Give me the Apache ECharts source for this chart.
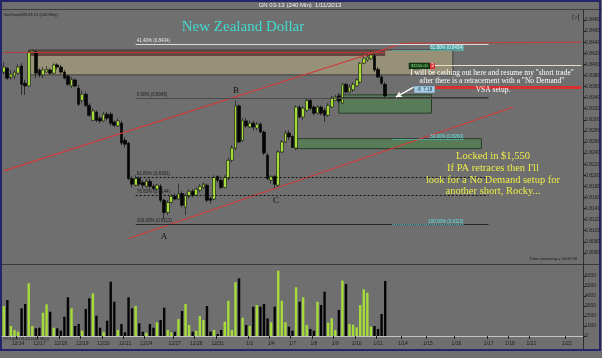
<!DOCTYPE html>
<html>
<head>
<meta charset="utf-8">
<script src="https://cdn.jsdelivr.net/npm/echarts@6/dist/echarts.min.js"></script>
<style>
  html, body, #main { width: 100%; height: 100%; margin: 0; }
  body { background: #6f6f6f; }
</style>
</head>
<body>
<div id="main"></div>
<script>
// 240 min bars, 6N 03-13
var slotCount = 163;   // bars that fit on the time axis (108 drawn, rest is empty space)
var dayLabels = ['12/14','12/17','12/18','12/19','12/20','12/21','12/24','12/27','12/28','12/31',
                 '1/2','1/4','1/7','1/8','1/9','1/10','1/11','1/14','1/15','1/16','1/17','1/18','1/21','1/22'];
var dayStartBar = [4,10,16,22,28,34,40,48,54,60,69,75,81,87,93,99,105,112,119,127,136,142,148,158];

var opens = [.8386,.8393,.8377,.8379,.8384,.8397,.8366,.8361,.8420,.8422,
 .8390,.8381,.8386,.8390,.8384,.8399,.8395,.8386,.8379,.8361,
 .8372,.8357,.8335,.8346,.8326,.8299,.8314,.8303,.8298,.8310,
 .8310,.8296,.8289,.8294,.8263,.8258,.8194,.8182,.8194,.8187,
 .8180,.8189,.8180,.8175,.8180,.8155,.8133,.8151,.8162,.8157,
 .8167,.8142,.8162,.8171,.8164,.8173,.8178,.8182,.8158,.8157,
 .8198,.8191,.8178,.8194,.8227,.8249,.8325,.8263,.8298,.8287,
 .8294,.8285,.8292,.8278,.8236,.8191,.8198,.8182,.8242,.8260,
 .8276,.8270,.8249,.8323,.8305,.8317,.8335,.8323,.8312,.8323,
 .8317,.8308,.8323,.8335,.8343,.8330,.8364,.8350,.8354,.8361,
 .8368,.8402,.8408,.8410,.8415,.8391,.8377,.8364];
var closes = [.8395,.8375,.8382,.8386,.8395,.8364,.8361,.8422,.8424,.8384,
 .8381,.8390,.8391,.8384,.8399,.8395,.8386,.8375,.8364,.8373,
 .8361,.8328,.8346,.8326,.8308,.8316,.8299,.8298,.8310,.8303,
 .8294,.8290,.8298,.8258,.8256,.8194,.8184,.8194,.8184,.8182,
 .8189,.8180,.8176,.8182,.8155,.8133,.8151,.8162,.8157,.8167,
 .8146,.8164,.8171,.8164,.8175,.8180,.8184,.8155,.8155,.8196,
 .8191,.8178,.8196,.8227,.8249,.8325,.8260,.8299,.8289,.8294,
 .8287,.8292,.8278,.8240,.8194,.8198,.8184,.8242,.8260,.8276,
 .8269,.8250,.8323,.8305,.8321,.8335,.8321,.8312,.8323,.8312,
 .8308,.8326,.8339,.8341,.8334,.8364,.8350,.8359,.8364,.8372,
 .8402,.8411,.8413,.8417,.8390,.8377,.8366,.8343];
var highs = [.8404,.8395,.8390,.8390,.8400,.8402,.8372,.8424,.8426,.8426,
 .8393,.8395,.8397,.8393,.8402,.8402,.8399,.8390,.8381,.8377,
 .8375,.8363,.8354,.8350,.8330,.8321,.8317,.8307,.8314,.8314,
 .8314,.8299,.8303,.8298,.8269,.8260,.8198,.8200,.8198,.8191,
 .8194,.8194,.8184,.8185,.8184,.8158,.8155,.8166,.8167,.8185,
 .8171,.8167,.8175,.8175,.8178,.8184,.8187,.8185,.8162,.8200,
 .8200,.8194,.8200,.8232,.8254,.8335,.8328,.8303,.8303,.8299,
 .8298,.8296,.8296,.8281,.8240,.8200,.8200,.8245,.8263,.8281,
 .8281,.8272,.8326,.8326,.8325,.8339,.8339,.8326,.8326,.8326,
 .8321,.8330,.8343,.8345,.8348,.8366,.8366,.8363,.8368,.8375,
 .8404,.8417,.8419,.8424,.8419,.8395,.8381,.8368];
var lows = [.8382,.8372,.8372,.8373,.8381,.8345,.8345,.8359,.8419,.8375,
 .8377,.8375,.8384,.8381,.8382,.8391,.8382,.8373,.8361,.8357,
 .8359,.8325,.8330,.8323,.8305,.8298,.8296,.8294,.8296,.8299,
 .8289,.8287,.8287,.8254,.8250,.8191,.8178,.8180,.8180,.8176,
 .8178,.8176,.8173,.8173,.8151,.8122,.8128,.8149,.8155,.8155,
 .8142,.8128,.8158,.8160,.8162,.8169,.8175,.8151,.8149,.8155,
 .8187,.8175,.8176,.8191,.8223,.8245,.8258,.8260,.8285,.8285,
 .8281,.8281,.8276,.8236,.8191,.8185,.8176,.8178,.8240,.8258,
 .8263,.8249,.8245,.8303,.8299,.8314,.8317,.8308,.8310,.8308,
 .8296,.8305,.8321,.8334,.8330,.8328,.8348,.8348,.8350,.8359,
 .8366,.8400,.8404,.8408,.8386,.8375,.8363,.8341];
var volumes = [3000,3600,1000,600,430,2770,3200,5270,1000,770,
 830,2330,3170,2430,830,770,530,1930,3870,2770,
 1000,1200,530,2700,3770,4270,2030,830,430,1530,
 5430,3430,600,1200,370,3870,2770,3000,1270,430,
 330,1200,830,1370,1600,2830,600,370,430,1700,
 2500,3200,1100,430,530,2000,1600,3000,430,600,
 200,600,1430,3530,600,5370,5770,1830,1100,1000,
 2930,3100,2930,3200,1770,1370,2930,6530,3530,1370,
 930,530,4870,3430,3870,1100,700,530,3430,3100,
 4430,1330,1770,600,2600,5530,5200,1200,1130,870,
 3100,4670,4330,930,1000,700,2200,5500];

// drawn levels
var fibLevels = [0.8436, 0.8339, 0.8196, 0.8164, 0.8111];
var fibNames = ['41.40% (0.8434)', '0.00% (0.8345)', '61.80% (0.8181)', '78.60% (0.8144)', '100.00% (0.8113)'];
var targetLevels = [0.8426, 0.8265, 0.8111];
var targetNames = ['61.80% (0.8434)', '50.00% (0.8260)', '100.00% (0.8113)'];
var stopLevel = 0.8399, entryLevel = 0.8358, askLevel = 0.8361, bidLevel = 0.8354;

var UP = '#a6dc3a', DOWN = '#050505';
var slots = [];
for (var i = 0; i < slotCount; i++) slots.push(String(i));
var dayAt = {};
dayStartBar.forEach(function (b, k) { dayAt[b] = dayLabels[k]; });
function isDay(i) { return dayAt[i] !== undefined; }

var candles = opens.map(function (o, i) { return [o, closes[i], lows[i], highs[i]]; });
var vols = volumes.map(function (v, i) {
  return { value: v, itemStyle: { color: closes[i] >= opens[i] ? UP : DOWN } };
});
var lastClose = closes[closes.length - 1];
var lastVol = volumes[volumes.length - 1];

function seg(x1, y1, x2, y2, style, label) {
  var a = { coord: [x1, y1], lineStyle: style };
  if (label) a.label = label;
  return [a, { coord: [x2, y2] }];
}
function fibLabel(t, col) {
  return { show: true, position: 'insideStartTop', formatter: t, fontSize: 4.5, color: col || '#1e1e1e', distance: 1 };
}
function boxLabel(v, bg, fg) {
  return { show: true, position: 'end', distance: 2, formatter: v.toFixed(4), fontSize: 5,
           color: fg, backgroundColor: bg, padding: [1, 1, 0, 1] };
}

var lines = [
  // channel
  seg(0, 0.8208, 112, 0.8438, { color: '#d23a3a', width: 1.2, type: 'solid' }),
  seg(112, 0.8438, 162, 0.8440, { color: '#c83a3a', width: 1, type: 'solid' }),
  seg(35, 0.8086, 143, 0.8323, { color: '#d23a3a', width: 1.2, type: 'solid' }),
  seg(0, 0.8422, 107, 0.8422, { color: '#b83a3a', width: 1, type: 'solid' }),
  // fib retracement
  seg(37, fibLevels[0], 136, fibLevels[0], { color: '#dcdcdc', width: 1, type: 'solid' }, fibLabel(fibNames[0], '#e8e8e8')),
  seg(37, fibLevels[1], 136, fibLevels[1], { color: '#4a4a4a', width: 1, type: 'solid' }, fibLabel(fibNames[1])),
  seg(37, fibLevels[2], 136, fibLevels[2], { color: '#111', width: 1, type: [2, 2] }, fibLabel(fibNames[2])),
  seg(37, fibLevels[3], 136, fibLevels[3], { color: '#111', width: 1, type: [2, 2] }, fibLabel(fibNames[3])),
  seg(37, fibLevels[4], 136, fibLevels[4], { color: '#2a2a2a', width: 1, type: 'solid' }, fibLabel(fibNames[4])),
  // targets
  seg(109, targetLevels[0], 129, targetLevels[0], { color: '#4fd6d6', width: 1, type: 'dotted' },
      { show: true, position: 'insideEndTop', formatter: targetNames[0], fontSize: 4.5, color: '#d8ffff', backgroundColor: 'rgba(60,190,190,0.6)', distance: 0 }),
  seg(109, targetLevels[1], 129, targetLevels[1], { color: '#4fd6d6', width: 1, type: 'dotted' },
      { show: true, position: 'insideEndTop', formatter: targetNames[1], fontSize: 4.5, color: '#5fe8e8', distance: 0 }),
  seg(109, targetLevels[2], 129, targetLevels[2], { color: '#4fd6d6', width: 1, type: 'dotted' },
      { show: true, position: 'insideEndTop', formatter: targetNames[2], fontSize: 4.5, color: '#5fe8e8', distance: 0 }),
  // orders
  seg(120, stopLevel, 162, stopLevel, { color: '#e6dcc4', width: 1, type: 'solid' }),
  seg(120, entryLevel, 162, entryLevel, { color: '#d83030', width: 3, type: 'solid' }),
  seg(94, 0.8341, 136, 0.8341, { color: '#3a3a3a', width: 1, type: 'solid' }),
  { yAxis: stopLevel, lineStyle: { opacity: 0 }, label: boxLabel(stopLevel, '#e8d7ac', '#222') },
  { yAxis: askLevel, lineStyle: { opacity: 0 }, label: boxLabel(askLevel, '#e03a3a', '#fff') },
  { yAxis: bidLevel, lineStyle: { opacity: 0 }, label: boxLabel(bidLevel, '#e03a3a', '#fff') },
  { yAxis: lastClose, lineStyle: { opacity: 0 }, label: boxLabel(lastClose, '#000', '#fff') },
  // arrow to last bar
  [{ coord: [115, 0.8359], symbol: 'none', lineStyle: { color: '#fff', width: 1.3, type: 'solid' } },
   { coord: [110, 0.8341], symbol: 'arrow', symbolSize: [5, 6] }]
];

var areas = [
  [{ coord: [7, 0.8426], itemStyle: { color: 'rgba(200,186,130,0.45)', borderColor: '#3c3c3c', borderWidth: 1 } }, { coord: [126, 0.8381] }],
  [{ coord: [7, 0.8426], itemStyle: { color: 'rgba(92,62,56,0.9)', borderWidth: 0 } }, { coord: [107, 0.8415] }],
  [{ coord: [94, 0.8345], itemStyle: { color: 'rgba(60,140,60,0.45)', borderColor: '#2b3b2b', borderWidth: 1 } }, { coord: [120, 0.8312] }],
  [{ coord: [82, 0.8266], itemStyle: { color: 'rgba(60,140,60,0.45)', borderColor: '#2b3b2b', borderWidth: 1 } }, { coord: [134, 0.8248] }]
];

var chart = echarts.init(document.getElementById('main'));
var serif = '"Liberation Serif", "DejaVu Serif", serif';
function txt(x, y, s, size, col, fam, align) {
  return { type: 'text', x: x, y: y, z: 50, silent: true,
           style: { text: s, fill: col, font: size + 'px ' + (fam || serif), align: align || 'center', verticalAlign: 'middle' } };
}

var option = {
  animation: false,
  backgroundColor: '#6f6f6f',
  grid: [
    { left: 2, right: 19, top: 10, bottom: 94, outerBoundsMode: 'none', containLabel: false },
    { left: 2, right: 19, top: 266, bottom: 22, outerBoundsMode: 'none', containLabel: false }
  ],
  xAxis: [
    { type: 'category', gridIndex: 0, data: slots, boundaryGap: true,
      axisLine: { show: false }, axisTick: { show: false }, axisLabel: { show: false }, splitLine: { show: false } },
    { type: 'category', gridIndex: 1, data: slots, boundaryGap: true,
      axisLine: { show: true, lineStyle: { color: '#c4c4c4', width: 1 } },
      axisTick: { show: true, interval: isDay, length: 3, lineStyle: { color: '#222' } },
      axisLabel: { interval: isDay, formatter: function (v, i) { return dayAt[i] || ''; },
                   fontSize: 5, color: '#1e1e1e', margin: 5, fontFamily: 'Arial, "Liberation Sans"' },
      splitLine: { show: false } }
  ],
  yAxis: [
    { type: 'value', gridIndex: 0, position: 'right', min: 0.804, max: 0.8498, interval: 0.002,
      axisLine: { show: true, lineStyle: { color: '#2e2e2e' } },
      axisTick: { show: true, length: 3, lineStyle: { color: '#222' } },
      axisLabel: { fontSize: 5, color: '#1e1e1e', margin: 2, showMinLabel: false, showMaxLabel: false,
                   formatter: function (v) { return v.toFixed(4); } },
      splitLine: { show: false } },
    { type: 'value', gridIndex: 1, position: 'right', min: 0, max: 7000, interval: 1000,
      axisLine: { show: true, lineStyle: { color: '#2e2e2e' } },
      axisTick: { show: true, length: 3, lineStyle: { color: '#222' } },
      axisLabel: { fontSize: 5, color: '#1e1e1e', margin: 2, showMaxLabel: false,
                   formatter: function (v) { return String(v); } },
      splitLine: { show: false } }
  ],
  series: [
    { type: 'candlestick', xAxisIndex: 0, yAxisIndex: 0, data: candles, barWidth: 3.2,
      itemStyle: { color: UP, color0: DOWN, borderColor: '#111', borderColor0: '#000', borderWidth: 0.6 },
      markArea: { silent: true, data: areas },
      markLine: { silent: true, symbol: ['none', 'none'], label: { show: false }, data: lines }
    },
    { type: 'bar', xAxisIndex: 1, yAxisIndex: 1, data: vols, barWidth: 2.4,
      markLine: { silent: true, symbol: ['none', 'none'],
        data: [{ yAxis: lastVol, lineStyle: { opacity: 0 },
                 label: { show: true, position: 'end', distance: 2, formatter: String(lastVol), fontSize: 5,
                          color: '#fff', backgroundColor: '#000', padding: [1, 1, 0, 1] } }] } }
  ],
  graphic: [
    { type: 'line', silent: true, shape: { x1: 0, y1: 9.5, x2: 602, y2: 9.5 }, style: { stroke: '#3e3e3e', lineWidth: 1 } },
    { type: 'line', silent: true, shape: { x1: 0, y1: 264.5, x2: 600, y2: 264.5 }, style: { stroke: '#3a3a3a', lineWidth: 1 } },
    { type: 'line', silent: true, shape: { x1: 583.5, y1: 10, x2: 583.5, y2: 350 }, style: { stroke: '#2e2e2e', lineWidth: 1 } },
    { type: 'rect', silent: true, shape: { x: 1, y: 1, width: 599, height: 349 }, style: { fill: null, stroke: '#23246a', lineWidth: 2 } },
    txt(300, 5, 'GN 03-13 (240 Min)  1/11/2013', 6, '#f2f2f2', 'Arial, "Liberation Sans"'),
    txt(4, 14.5, 'SerTrend(6N 03-13 (240 Min))', 4, '#1a1a1a', 'Arial, "Liberation Sans"', 'left'),
    txt(4, 338.5, 'VOL(6N 03-13 (240 Min))', 4, '#1a1a1a', 'Arial, "Liberation Sans"', 'left'),
    txt(577, 259, 'Time remaining = 00:09:58', 4, '#1a1a1a', 'Arial, "Liberation Sans"', 'right'),
    txt(576, 17, '\u25B7|', 7, '#222', 'DejaVu Sans'),
    txt(243, 27, 'New Zealand Dollar', 15, '#3fdcd0'),
    txt(236, 91, 'B', 9, '#111'),
    txt(276, 201, 'C', 9, '#111'),
    txt(164, 237, 'A', 9, '#111'),
    txt(492, 73, 'I will be cashing out here and resume my "short trade"', 7.5, '#ffffff'),
    txt(492, 81.5, 'after there is a retracement with a "No Demand"', 7.5, '#ffffff'),
    txt(493, 90, 'VSA setup.', 7.5, '#ffffff'),
    txt(493, 156, 'Locked in $1,550', 10.5, '#ecec48'),
    txt(493, 168, "If PA retraces then I'll", 10.5, '#ecec48'),
    txt(493, 180, 'look for a No Demand setup for', 10.5, '#ecec48'),
    txt(493, 191.5, 'another short, Rocky...', 10.5, '#ecec48'),
    { type: 'rect', silent: true, z: 40, shape: { x: 409, y: 63, width: 21, height: 6 }, style: { fill: '#173d17', stroke: '#0c200c', lineWidth: 0.5 } },
    { type: 'rect', silent: true, z: 40, shape: { x: 430, y: 63, width: 5, height: 6 }, style: { fill: '#d83030' } },
    txt(419.5, 66.2, '$1550.00', 4, '#8fe88f', 'Arial, "Liberation Sans"'),
    txt(432.5, 66.2, '3', 4.5, '#fff', 'Arial, "Liberation Sans"'),
    { type: 'rect', silent: true, z: 40, shape: { x: 414, y: 86, width: 21, height: 7 }, style: { fill: '#a9cfe6', stroke: '#4a6a80', lineWidth: 0.5 } },
    txt(424.5, 89.6, '-8  7.18', 4.5, '#12304a', 'Arial, "Liberation Sans"')
  ]
};
chart.setOption(option);
</script>
</body>
</html>
